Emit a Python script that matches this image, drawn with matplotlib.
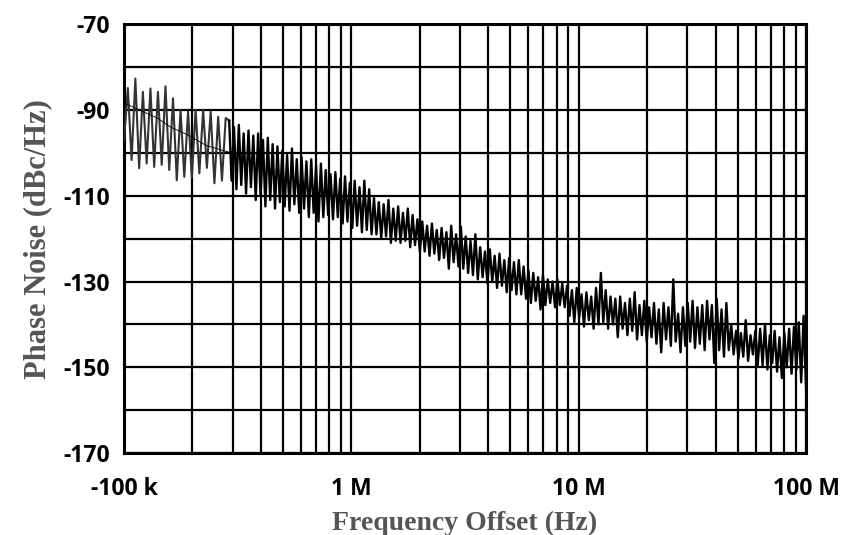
import numpy as np
import matplotlib
matplotlib.use("Agg")
import matplotlib.pyplot as plt

plt.rcParams['axes.unicode_minus'] = False

# Phase noise trace, read off the plot as alternating dips / peaks (dBc/Hz)
# segment 1: 100 kHz .. ~280 kHz, wide ripple (dip, peak order)
s1_dips = [-97.0, -101.7, -103.6, -102.5, -103.3, -102.8, -104.0, -106.4, -105.6, -105.8,
           -104.8, -103.5, -107.1, -106.5]
s1_peaks = [-84.9, -82.7, -85.8, -85.0, -85.8, -84.5, -87.3, -90.0, -90.4, -90.0,
            -90.0, -90.4, -91.6, -91.9]

# segment 2: ~290 kHz .. 100 MHz, dense noise (peak, dip order)
s2_peaks = [-92.5, -94.0, -93.5, -95.5, -94.8, -96.0, -95.5, -97.0, -96.5, -98.0,
            -98.5, -99.5, -100.5, -99.0, -101.5, -101.0, -102.0, -101.5, -103.0, -102.5,
            -104.0, -105.0, -104.5, -106.0, -105.5, -107.0, -106.5, -108.0, -106.5, -108.5,
            -110.5, -111.5, -112.0, -111.0, -113.0, -112.5, -114.0, -113.0, -114.5, -115.5,
            -116.0, -117.0, -116.5, -118.0, -117.5, -118.5, -117.0, -119.0, -117.2, -119.5,
            -120.5, -119.0, -122.0, -123.0, -122.5, -124.0, -123.5, -125.0, -124.5, -125.5,
            -125.0, -126.5, -127.5, -128.0, -129.0, -128.5, -129.5, -130.0, -129.5, -130.5,
            -131.0, -132.0, -131.5, -133.0, -132.5, -133.5, -131.5, -128.0, -132.0, -133.5,
            -134.0, -133.5, -135.0, -134.0, -132.5, -135.5, -134.5, -136.0, -135.0, -136.5,
            -135.0, -136.0, -129.5, -137.5, -136.0, -135.0, -134.5, -136.0, -135.5, -134.5,
            -135.5, -134.0, -136.5, -135.0, -140.0, -141.5, -142.0, -139.0, -142.5, -141.5,
            -141.0, -140.0, -142.5, -141.5, -143.0, -142.0, -141.0, -140.5, -139.5, -138.0]
s2_dips = [-106.5, -108.5, -107.5, -109.5, -108.0, -111.0, -110.0, -112.5, -111.0, -113.0,
           -111.5, -112.5, -113.5, -112.0, -114.0, -113.0, -115.0, -114.0, -116.0, -115.0,
           -114.5, -115.5, -115.0, -116.5, -116.0, -117.5, -117.0, -118.5, -118.0, -119.0,
           -119.0, -120.0, -119.5, -121.0, -120.5, -121.0, -120.5, -122.0, -121.5, -123.0,
           -123.0, -124.0, -123.5, -125.0, -124.5, -127.0, -125.5, -126.5, -127.0, -128.0,
           -128.5, -129.5, -129.0, -130.5, -130.0, -131.5, -131.0, -132.5, -132.0, -133.0,
           -133.0, -134.0, -135.0, -134.5, -136.5, -135.5, -135.0, -136.0, -135.5, -136.0,
           -138.0, -139.5, -138.5, -140.5, -139.0, -141.0, -140.0, -139.5, -141.0, -140.0,
           -143.0, -141.0, -142.5, -141.5, -143.5, -142.5, -144.0, -143.0, -144.5, -146.5,
           -143.5, -145.0, -144.0, -146.5, -145.0, -144.0, -145.5, -144.5, -146.0, -143.5,
           -149.0, -146.0, -147.5, -146.0, -147.0, -148.0, -147.5, -148.5, -147.0, -149.5,
           -149.5, -150.5, -149.0, -151.0, -152.5, -150.0, -151.5, -150.5, -153.5, -154.5]

# thin smoothed trace at the low-offset end
smooth_freq = [1e5, 1.2e5, 1.4e5, 1.6e5, 1.9e5, 2.3e5, 2.7e5, 3.2e5]
smooth_pn = [-88.4, -90.3, -91.9, -94.0, -95.8, -98.3, -99.4, -100.5]

x_ticks = [1e5, 1e6, 1e7, 1e8]
x_ticklabels = ["-100 k", "1 M", "10 M", "100 M"]
y_ticks = [-170, -150, -130, -110, -90, -70]

# interleave dips/peaks into one sweep
seg1 = np.empty(2 * len(s1_dips))
seg1[0::2] = s1_dips
seg1[1::2] = s1_peaks
seg2 = np.empty(2 * len(s2_peaks))
seg2[0::2] = s2_peaks
seg2[1::2] = s2_dips
pn = np.concatenate([seg1, seg2])
freq = np.concatenate([np.geomspace(1e5, 2.8e5, len(seg1)),
                       np.geomspace(2.9e5, 1e8, len(seg2))])

fig = plt.figure(figsize=(8.44, 5.35), dpi=100)
ax = fig.add_axes([0.147, 0.153, 0.808, 0.802])

ax.plot(freq[:len(seg1) + 1], pn[:len(seg1) + 1], color='#333333', lw=1.5, zorder=3)
ax.plot(freq[len(seg1):], pn[len(seg1):], color='black', lw=1.7, zorder=3)
ax.plot(smooth_freq, smooth_pn, color='black', lw=0.6, zorder=4)

ax.set_xscale('log')
ax.set_xlim(1e5, 1e8)
ax.set_ylim(-170, -70)

# grid: every 10 dB, every 1..9 per decade
ax.set_yticks(np.arange(-170, -69, 10), minor=True)
ax.grid(True, which='both', color='black', lw=1.6)
ax.set_axisbelow(True)

ax.set_xticks(x_ticks)
ax.set_xticklabels(x_ticklabels)
ax.set_yticks(y_ticks)
ax.tick_params(which='both', length=0)
ax.tick_params(axis='x', pad=17)
ax.tick_params(axis='y', pad=10)
for lbl in ax.get_xticklabels() + ax.get_yticklabels():
    lbl.set_fontfamily('Open Sans')
    lbl.set_fontweight('bold')
    lbl.set_fontsize(16.5)

for sp in ax.spines.values():
    sp.set_linewidth(2.2)
    sp.set_color('black')

ax.set_xlabel('Frequency Offset (Hz)', family='Liberation Serif', fontweight='bold',
              fontsize=20, color='#555555', labelpad=7)
ax.set_ylabel('Phase Noise (dBc/Hz)', family='Liberation Serif', fontweight='bold',
              fontsize=22, color='#555555', labelpad=8)

fig.savefig('out.png', dpi=100)
